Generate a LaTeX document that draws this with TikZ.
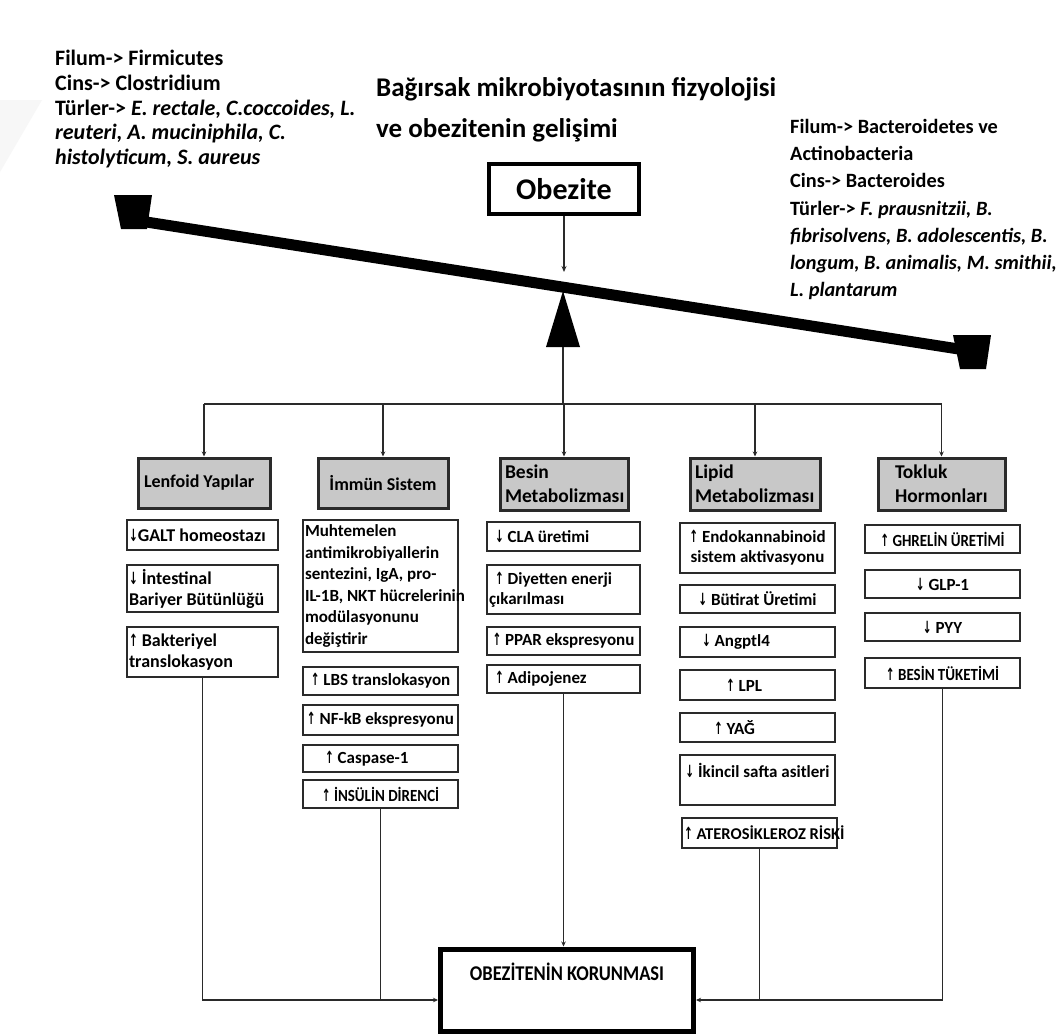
\documentclass[tikz,border=0pt]{standalone}
\usepackage{fontspec}
\setmainfont{Carlito}
\newfontfamily\condfont[FakeStretch=0.88]{Carlito}
\newfontfamily\arrfont{DejaVu Sans}
\usetikzlibrary{arrows.meta}
\newcommand\arrU{{\arrfont\bfseries\fontsize{15}{15}\selectfont\scalebox{0.7}[1.12]{↑}}}
\newcommand\arrD{{\arrfont\bfseries\fontsize{15}{15}\selectfont\scalebox{0.7}[1.12]{↓}}}
\definecolor{hdrgray}{HTML}{C8C8C8}
\definecolor{lnc}{HTML}{2A2A2A}
\tikzset{
  itembox/.style={draw=lnc, line width=2.6pt, fill=white, inner xsep=2pt, inner ysep=0pt,
     font=\bfseries\fontsize{17}{20}\selectfont},
  capsbox/.style={itembox, font=\condfont\bfseries\fontsize{17}{20}\selectfont},
  hdrbox/.style={draw=lnc, line width=3pt, fill=hdrgray, inner xsep=2pt, inner ysep=0pt,
     font=\bfseries\fontsize{18}{22}\selectfont},
  hdrbig/.style={hdrbox, font=\bfseries\fontsize{19.5}{24}\selectfont},
  conn/.style={draw=lnc, line width=1.8pt},
  tipconn/.style={conn, -{Stealth[length=5pt,width=4.5pt]}},
  sidetext/.style={anchor=north west, align=flush left, inner sep=0pt}
}
% style, name, x1, y1, x2, y2, text
\newcommand\mkbox[7]{%
  \pgfmathsetmacro\cxx{(#3+#5)/2}\pgfmathsetmacro\cyy{(#4+#6)/2}%
  \pgfmathsetmacro\bw{#5-#3}\pgfmathsetmacro\bh{#6-#4}\pgfmathsetmacro\tw{#5-#3-4}%
  \node[#1, minimum width=\bw pt, minimum height=\bh pt, text width=\tw pt] (#2) at (\cxx,\cyy) {#7};}
\begin{document}
\begin{tikzpicture}[x=1pt,y=-1pt]
\useasboundingbox (0,0) rectangle (1062,1034);
\fill[white] (0,0) rectangle (1062,1034);
\fill[black!3] (0,100) -- (42,100) -- (0,172) -- cycle;

% side texts and title
\node[sidetext, font=\bfseries\fontsize{22}{24.7}\selectfont] (lefttxt) at (55,50) {Filum-> Firmicutes\\Cins-> Clostridium\\Türler-> \textit{E. rectale, C.coccoides, L.}\\\textit{reuteri, A. muciniphila, C.}\\\textit{histolyticum, S. aureus}};
\node[sidetext, font=\bfseries\fontsize{20.3}{27.2}\selectfont] (righttxt) at (790,119) {Filum-> Bacteroidetes ve\\Actinobacteria\\Cins-> Bacteroides\\Türler-> \textit{F. prausnitzii, B.}\\\textit{fibrisolvens, B. adolescentis, B.}\\\textit{longum, B. animalis, M. smithii,}\\\textit{L. plantarum}};
\node[sidetext, font=\bfseries\fontsize{27}{41}\selectfont] (title) at (376,77) {Bağırsak mikrobiyotasının fizyolojisi\\ve obezitenin gelişimi};

% Obezite box
\node[draw=black, line width=4pt, fill=white, minimum width=150pt, minimum height=50pt, font=\bfseries\fontsize{30}{32}\selectfont] (obez) at (564,189) {Obezite};
\coordinate (otip) at (564,272);
\draw[conn, line width=1.3pt, -{Stealth[length=6pt,width=5pt]}] (obez.south) -- (otip);

% seesaw
\coordinate (bl) at (140,221);
\coordinate (br) at (965,350);
\draw[line width=11pt, black] (bl) -- (br);
\fill[black] (114,195) -- (152,195) -- (147,229) -- (121,229) -- cycle;
\fill[black] (953,335) -- (991,335) -- (986,369) -- (960,369) -- cycle;
\coordinate (fb) at (563,347);
\fill[black] (563,291) -- (580,347) -- (546,347) -- cycle;

% headers
\mkbox{hdrbox, align=flush left, font=\bfseries\fontsize{18}{22}\selectfont}{h1}{138}{458}{270}{508}{\hspace*{4pt}Lenfoid Yapılar}
\mkbox{hdrbox, align=flush center, font=\bfseries\fontsize{18}{22}\selectfont}{h2}{318}{458}{448}{508}{İmmün Sistem}
\mkbox{hdrbig, align=flush left}{h3}{500}{458}{628}{510}{\hspace*{3pt}Besin\\\hspace*{3pt}Metabolizması}
\mkbox{hdrbig, align=flush left}{h4}{690}{458}{820}{510}{\hspace*{3pt}Lipid\\\hspace*{3pt}Metabolizması}
\mkbox{hdrbig, align=flush left}{h5}{878}{458}{1005}{510}{\hspace*{15pt}Tokluk\\\hspace*{15pt}Hormonları}

% bus
\coordinate (bus) at (563,404);
\draw[conn] (fb) -- (bus);
\draw[conn] (h1.north |- bus) -- (h5.north |- bus);
\foreach \h in {h1,h2,h3,h4,h5} \draw[tipconn] (\h.north |- bus) -- (\h.north);

% Lenfoid column
\tikzset{lenf/.style={itembox, align=flush left, font=\bfseries\fontsize{18}{21}\selectfont}}
\mkbox{lenf}{l1}{127}{520}{278}{550}{\arrD GALT homeostazı}
\mkbox{lenf}{l2}{127}{565}{278}{612}{\arrD\ İntestinal\\Bariyer Bütünlüğü}
\mkbox{lenf}{l3}{127}{627}{278}{677}{\arrU\ Bakteriyel\\translokasyon}

% Immun column
\mkbox{itembox, align=flush left, font=\bfseries\fontsize{17}{21.5}\selectfont}{i1}{303}{520}{458}{652}{Muhtemelen\\antimikrobiyallerin\\sentezini, IgA, pro-\\\mbox{IL-1B, NKT hücrelerinin}\\modülasyonunu\\değiştirir}
\mkbox{itembox, align=flush center}{i2}{303}{667}{458}{695}{\arrU\ LBS translokasyon}
\mkbox{itembox, align=flush center}{i3}{303}{705}{458}{735}{\mbox{\arrU\ NF-kB ekspresyonu}}
\mkbox{itembox, align=flush left}{i4}{303}{745}{458}{772}{\hspace*{20pt}\arrU\ Caspase-1}
\mkbox{capsbox, align=flush center}{i5}{303}{780}{458}{808}{\arrU\ İNSÜLİN DİRENCİ}

% Besin column
\mkbox{itembox, align=flush left}{b1}{487}{522}{640}{551}{\hspace*{6pt}\arrD\ CLA üretimi}
\mkbox{itembox, align=flush left}{b2}{487}{565}{640}{614}{\hspace*{6pt}\arrU\ Diyetten enerji\\çıkarılması}
\mkbox{itembox, align=flush center}{b3}{487}{627}{640}{655}{\mbox{\arrU\ PPAR ekspresyonu}}
\mkbox{itembox, align=flush left}{b4}{487}{665}{640}{693}{\hspace*{6pt}\arrU\ Adipojenez}

% Lipid column
\mkbox{itembox, align=flush center}{p1}{680}{523}{835}{573}{\arrU\ Endokannabinoid\\\mbox{sistem aktivasyonu}}
\mkbox{itembox, align=flush center}{p2}{680}{585}{835}{613}{\arrD\ Bütirat Üretimi}
\mkbox{itembox, align=flush left}{p3}{680}{627}{835}{657}{\hspace*{20pt}\arrD\ Angptl4}
\mkbox{itembox, align=flush left}{p4}{680}{670}{835}{700}{\hspace*{44pt}\arrU\ LPL}
\mkbox{itembox, align=flush left}{p5}{680}{713}{835}{742}{\hspace*{32pt}\arrU\ YAĞ}
\mkbox{itembox, align=flush center}{p6}{680}{755}{835}{805}{\raisebox{3pt}[0pt][0pt]{\arrD\ İkincil safta asitleri}}
\mkbox{itembox, align=flush left, font=\bfseries\fontsize{16.5}{20}\selectfont}{p7}{682}{818}{837}{848}{\mbox{\arrU\ ATEROSİKLEROZ RİSKİ}}

% Tokluk column
\mkbox{capsbox, align=flush center}{t1}{865}{525}{1020}{553}{\arrU\ GHRELİN ÜRETİMİ}
\mkbox{itembox, align=flush center}{t2}{865}{570}{1020}{598}{\arrD\ GLP-1}
\mkbox{itembox, align=flush center}{t3}{865}{613}{1020}{641}{\arrD\ PYY}
\mkbox{capsbox, align=flush center}{t4}{865}{658}{1020}{688}{\arrU\ BESİN TÜKETİMİ}

% bottom box
\node[draw=black, line width=5pt, fill=white, minimum width=253pt, minimum height=82pt, font=\condfont\bfseries\fontsize{21}{23}\selectfont] (kor) at (567,990) {\raisebox{10pt}[0pt][0pt]{OBEZİTENİN KORUNMASI}};
\coordinate (kl) at (kor.west |- 0,1000);
\coordinate (kr) at (kor.east |- 0,1000);
\draw[tipconn] (l3.south) |- (kl);
\draw[conn] (i5.south) -- (i5.south |- kl);
\draw[tipconn] (b4.south) -- (b4.south |- kor.north);
\draw[conn] (p7.south) -- (p7.south |- kr);
\draw[tipconn] (t4.south) |- (kr);
\end{tikzpicture}
\end{document}
